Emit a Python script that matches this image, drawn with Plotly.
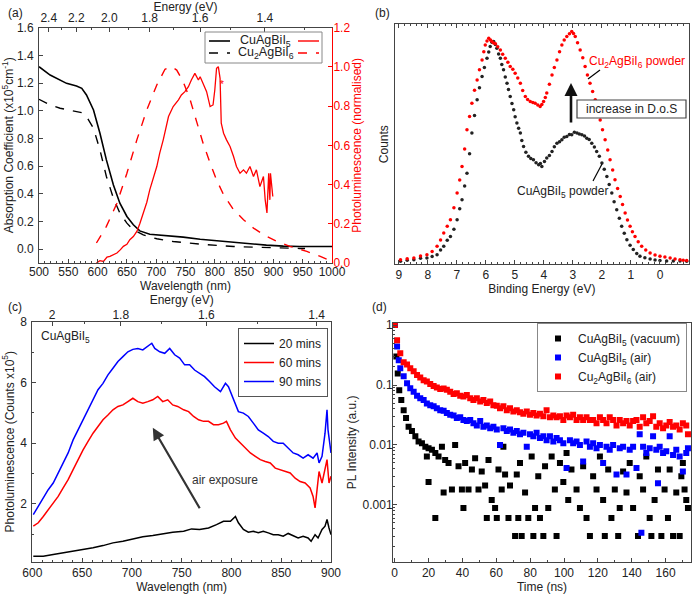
import plotly.graph_objects as go

# ---------------- DATA ----------------
# (a) absorption (x10^5 cm^-1) vs wavelength (nm)
abs_cu1_wl = [500, 519, 547, 564, 573, 581, 593, 604, 615, 627, 638, 650, 661, 672, 689, 718, 746, 775, 803, 832, 860, 888, 917, 945, 1000]
abs_cu1_val = [1.318, 1.258, 1.198, 1.179, 1.162, 1.114, 1.006, 0.837, 0.645, 0.464, 0.332, 0.236, 0.176, 0.132, 0.108, 0.099, 0.087, 0.072, 0.060, 0.048, 0.036, 0.029, 0.022, 0.019, 0.019]
abs_cu2_wl = [500, 519, 536, 559, 573, 581, 593, 604, 615, 627, 638, 650, 661, 678, 701, 729, 775, 832, 888, 945, 954]
abs_cu2_val = [1.083, 1.042, 1.018, 1.001, 0.986, 0.958, 0.873, 0.717, 0.525, 0.368, 0.260, 0.188, 0.140, 0.103, 0.075, 0.055, 0.036, 0.019, 0.010, 0.005, 0.005]
# (a) normalised PL
pl_cu2_wl = [598, 615, 633, 650, 667, 684, 701, 715, 726, 735, 746, 758, 769, 780, 792, 803, 815, 832, 849, 866, 888, 906, 928, 957, 980, 1000]
pl_cu2_val = [0.102, 0.187, 0.305, 0.458, 0.628, 0.781, 0.908, 0.988, 1.001, 0.984, 0.925, 0.832, 0.721, 0.611, 0.509, 0.424, 0.348, 0.272, 0.221, 0.178, 0.136, 0.110, 0.085, 0.059, 0.034, 0.008]
pl_cu1_wl = [598, 604, 610, 616, 621, 627, 633, 639, 644, 650, 655, 661, 667, 672, 678, 684, 689, 695, 701, 706, 712, 721, 729, 738, 743, 749, 755, 760, 766, 772, 775, 780, 786, 792, 797, 800, 803, 806, 809, 811, 815, 820, 826, 832, 837, 843, 849, 854, 860, 866, 871, 877, 883, 886, 889, 892, 894, 895, 899]
pl_cu1_val = [0.0, 0.012, 0.008, 0.030, 0.034, 0.042, 0.051, 0.068, 0.085, 0.095, 0.119, 0.135, 0.161, 0.200, 0.255, 0.310, 0.373, 0.430, 0.492, 0.560, 0.628, 0.747, 0.798, 0.832, 0.857, 0.874, 0.899, 0.933, 0.967, 0.933, 0.950, 0.916, 0.874, 0.798, 0.806, 0.882, 0.993, 1.001, 0.942, 0.713, 0.662, 0.628, 0.594, 0.543, 0.492, 0.458, 0.475, 0.458, 0.492, 0.441, 0.475, 0.390, 0.441, 0.322, 0.255, 0.458, 0.322, 0.458, 0.339]
energy_ticks_a = [2.4, 2.2, 2.0, 1.8, 1.6, 1.4]
energy_minor_a = [2.3, 2.1, 1.9, 1.7, 1.5, 1.3]

# (b) XPS valence band
be_cu1 = [8.94, 8.71, 8.48, 8.25, 8.03, 7.85, 7.68, 7.56, 7.45, 7.33, 7.22, 7.10, 6.99, 6.90, 6.82, 6.73, 6.65, 6.56, 6.48, 6.39, 6.30, 6.22, 6.13, 6.05, 5.96, 5.90, 5.85, 5.79, 5.73, 5.67, 5.62, 5.56, 5.50, 5.45, 5.39, 5.33, 5.27, 5.22, 5.16, 5.10, 5.04, 4.99, 4.93, 4.87, 4.81, 4.76, 4.70, 4.62, 4.53, 4.45, 4.36, 4.27, 4.18, 4.12, 4.07, 3.98, 3.90, 3.81, 3.72, 3.64, 3.55, 3.46, 3.38, 3.30, 3.21, 3.12, 3.04, 2.95, 2.86, 2.78, 2.69, 2.60, 2.52, 2.44, 2.35, 2.26, 2.18, 2.09, 2.00, 1.92, 1.83, 1.75, 1.66, 1.58, 1.49, 1.40, 1.32, 1.23, 1.14, 1.03, 0.92, 0.80, 0.69, 0.52, 0.34, 0.17, 0.00, -0.23, -0.46, -0.69, -0.92]
cnt_cu1 = [1.1, 1.6, 1.8, 2.4, 2.5, 3.1, 3.9, 5.8, 7.4, 9.9, 11.5, 14.5, 18.5, 23.0, 26.8, 32.5, 37.9, 46.0, 54.6, 62.0, 68.5, 73.5, 78.2, 82.0, 85.8, 88.4, 90.7, 92.5, 92.8, 91.6, 90.0, 87.6, 85.8, 83.2, 81.0, 78.0, 75.4, 72.8, 69.9, 67.0, 64.3, 61.4, 58.8, 56.6, 54.6, 51.5, 49.0, 46.6, 44.9, 44.0, 43.5, 42.2, 41.4, 41.9, 40.7, 42.8, 44.2, 45.3, 46.9, 48.9, 50.4, 51.0, 51.8, 52.9, 53.2, 54.0, 53.9, 55.0, 54.6, 54.2, 53.9, 53.4, 52.5, 51.9, 50.4, 48.8, 46.9, 44.9, 42.1, 39.5, 36.5, 33.2, 29.6, 26.0, 22.6, 19.1, 15.7, 12.8, 10.1, 7.8, 6.0, 4.4, 3.2, 2.6, 2.1, 1.7, 1.5, 1.3, 1.25, 1.2, 1.1]
be_cu2 = [8.94, 8.71, 8.48, 8.25, 8.03, 7.85, 7.68, 7.56, 7.45, 7.33, 7.22, 7.10, 6.99, 6.90, 6.82, 6.73, 6.65, 6.56, 6.48, 6.39, 6.30, 6.22, 6.13, 6.07, 6.02, 5.96, 5.90, 5.84, 5.79, 5.73, 5.67, 5.59, 5.50, 5.42, 5.33, 5.24, 5.16, 5.07, 4.99, 4.90, 4.81, 4.73, 4.64, 4.56, 4.47, 4.38, 4.30, 4.21, 4.13, 4.07, 4.01, 3.95, 3.90, 3.81, 3.72, 3.64, 3.55, 3.46, 3.38, 3.30, 3.21, 3.12, 3.04, 2.98, 2.92, 2.84, 2.75, 2.66, 2.58, 2.50, 2.41, 2.32, 2.23, 2.15, 2.06, 1.98, 1.89, 1.80, 1.72, 1.63, 1.55, 1.46, 1.37, 1.29, 1.20, 1.12, 1.03, 0.95, 0.86, 0.75, 0.63, 0.49, 0.34, 0.17, 0.00, -0.17, -0.35, -0.52, -0.69, -0.80, -0.92]
cnt_cu2 = [1.8, 2.2, 2.5, 3.3, 3.9, 5.2, 7.4, 10.0, 12.9, 15.8, 18.5, 23.5, 29.6, 35.0, 40.7, 48.0, 56.0, 61.5, 67.1, 72.5, 76.8, 81.0, 85.1, 88.6, 91.4, 93.0, 94.2, 93.5, 92.8, 92.2, 91.9, 90.6, 89.3, 87.5, 85.8, 84.2, 82.4, 81.2, 79.6, 77.6, 75.4, 72.4, 69.9, 68.6, 67.8, 67.4, 67.1, 66.3, 65.7, 66.5, 67.8, 69.5, 71.3, 75.0, 78.9, 82.0, 85.1, 88.5, 91.4, 93.4, 94.9, 96.1, 97.0, 96.2, 94.9, 92.3, 89.3, 86.0, 82.4, 78.8, 75.4, 72.0, 68.5, 64.4, 60.1, 56.0, 51.8, 47.6, 43.5, 39.2, 35.1, 31.5, 28.2, 24.8, 21.3, 18.4, 15.7, 13.5, 11.5, 9.3, 7.4, 5.8, 4.6, 3.8, 3.2, 2.9, 2.5, 2.1, 1.8, 1.6, 1.5]

# (c) PL vs air exposure (counts x10^5)
c_wl_90 = [601, 606, 611, 616, 621, 626, 631, 636, 641, 646, 651, 656, 661, 666, 671, 676, 681, 686, 691, 696, 701, 706, 711, 716, 720, 723, 728, 733, 738, 743, 748, 753, 758, 763, 768, 773, 778, 783, 789, 794, 797, 802, 807, 812, 817, 822, 827, 832, 837, 842, 847, 852, 857, 862, 867, 872, 877, 882, 886, 888, 891, 894, 896, 897, 900]
c_pl_90 = [1.65, 1.92, 2.20, 2.47, 2.69, 3.02, 3.35, 3.68, 4.11, 4.44, 4.77, 5.10, 5.48, 5.76, 5.97, 6.25, 6.47, 6.69, 6.85, 7.01, 7.09, 7.12, 7.07, 7.18, 7.29, 7.12, 7.01, 6.96, 7.12, 6.91, 6.80, 6.58, 6.58, 6.41, 6.30, 6.19, 6.03, 5.86, 5.70, 5.97, 5.86, 5.43, 5.04, 4.99, 4.88, 4.66, 4.44, 4.33, 4.22, 4.06, 4.00, 4.00, 3.84, 3.68, 3.62, 3.51, 3.62, 3.51, 3.68, 3.35, 3.57, 4.33, 5.10, 4.44, 3.68]
c_wl_60 = [601, 606, 611, 616, 621, 626, 631, 636, 641, 646, 651, 656, 661, 666, 671, 676, 681, 686, 691, 696, 701, 706, 711, 716, 721, 726, 731, 736, 741, 746, 752, 757, 762, 767, 772, 777, 782, 787, 792, 795, 799, 804, 809, 814, 819, 824, 829, 834, 839, 844, 849, 854, 859, 864, 869, 874, 879, 882, 884, 886, 888, 891, 894, 896, 898, 900]
c_pl_60 = [1.27, 1.38, 1.59, 1.81, 2.03, 2.25, 2.53, 2.80, 3.13, 3.46, 3.78, 4.06, 4.33, 4.55, 4.77, 4.93, 5.10, 5.21, 5.26, 5.37, 5.48, 5.37, 5.32, 5.37, 5.43, 5.54, 5.37, 5.43, 5.26, 5.21, 5.10, 5.04, 4.88, 4.77, 4.72, 4.72, 4.61, 4.61, 4.66, 4.72, 4.44, 4.17, 4.00, 3.84, 3.68, 3.57, 3.46, 3.40, 3.35, 3.18, 3.13, 3.07, 3.02, 2.85, 2.74, 2.69, 2.53, 2.25, 1.87, 2.47, 3.07, 2.69, 3.13, 3.46, 2.69, 2.91]
c_wl_20 = [601, 611, 621, 631, 641, 651, 661, 671, 681, 691, 701, 711, 721, 731, 741, 752, 760, 768, 777, 785, 792, 799, 804, 807, 812, 817, 822, 827, 832, 837, 842, 847, 852, 857, 862, 867, 872, 877, 880, 884, 887, 891, 894, 896, 898, 900]
c_pl_20 = [0.28, 0.28, 0.34, 0.39, 0.45, 0.50, 0.56, 0.63, 0.72, 0.77, 0.85, 0.92, 0.96, 1.01, 1.07, 1.10, 1.18, 1.16, 1.21, 1.32, 1.43, 1.43, 1.59, 1.38, 1.16, 1.07, 1.10, 1.05, 1.10, 1.05, 0.99, 0.99, 0.94, 1.03, 0.96, 0.88, 0.94, 0.88, 0.77, 0.99, 0.88, 1.16, 1.27, 1.49, 1.21, 0.99]
energy_ticks_c = [2.0, 1.8, 1.6, 1.4]
energy_minor_c = [1.9, 1.7, 1.5]

# (d) TRPL decays
t_red = [0, 1.4, 3.3, 5.3, 7.3, 9.2, 11.2, 13.2, 15.1, 17.1, 19.0, 21.0, 23.0, 24.9, 26.9, 28.9, 30.8, 32.8, 34.8, 36.7, 38.7, 40.6, 42.6, 44.6, 46.5, 48.5, 50.5, 52.4, 54.4, 56.4, 58.3, 60.3, 62.2, 64.2, 66.2, 68.1, 70.1, 72.1, 74.0, 76.0, 78.0, 79.9, 81.9, 83.8, 85.8, 87.8, 89.7, 91.7, 93.7, 95.6, 97.6, 99.6, 101.5, 103.5, 105.4, 107.4, 109.4, 111.3, 113.3, 115.3, 117.2, 119.2, 121.2, 123.1, 125.1, 127.0, 129.0, 131.0, 132.9, 134.9, 136.9, 138.8, 140.8, 142.8, 144.7, 146.7, 148.6, 150.6, 152.6, 154.5, 156.5, 158.5, 160.4, 162.4, 164.4, 166.3, 168.3, 170.2, 172.2, 173.2]
i_red = [1.0, 0.56, 0.34, 0.24, 0.22, 0.19, 0.17, 0.147, 0.134, 0.12, 0.114, 0.104, 0.096, 0.091, 0.086, 0.087, 0.083, 0.077, 0.071, 0.073, 0.066, 0.064, 0.068, 0.060, 0.056, 0.060, 0.053, 0.056, 0.050, 0.053, 0.046, 0.045, 0.041, 0.044, 0.038, 0.041, 0.036, 0.038, 0.035, 0.033, 0.036, 0.032, 0.034, 0.031, 0.033, 0.030, 0.038, 0.029, 0.031, 0.029, 0.030, 0.026, 0.031, 0.029, 0.032, 0.026, 0.029, 0.026, 0.029, 0.026, 0.026, 0.023, 0.029, 0.026, 0.023, 0.029, 0.026, 0.021, 0.026, 0.023, 0.025, 0.021, 0.025, 0.026, 0.020, 0.029, 0.023, 0.025, 0.030, 0.020, 0.023, 0.019, 0.021, 0.024, 0.020, 0.021, 0.018, 0.023, 0.021, 0.015]
t_blue = [0, 1.4, 2.4, 3.3, 5.3, 7.3, 9.2, 11.2, 13.2, 15.1, 17.1, 19.0, 21.0, 23.0, 24.9, 26.9, 28.9, 30.8, 32.8, 34.8, 36.7, 38.7, 40.6, 42.6, 44.6, 46.5, 48.5, 50.5, 52.4, 54.4, 56.4, 58.3, 60.3, 62.2, 64.2, 66.2, 68.1, 70.1, 72.1, 74.0, 76.0, 78.0, 79.9, 81.9, 83.8, 85.8, 87.8, 89.7, 91.7, 93.7, 95.6, 97.6, 99.6, 101.5, 103.5, 105.4, 107.4, 109.4, 111.3, 113.3, 115.3, 117.2, 119.2, 121.2, 123.1, 125.1, 127.0, 129.0, 131.0, 132.9, 134.9, 136.9, 138.8, 140.8, 142.8, 144.7, 145.7, 146.7, 148.6, 150.6, 152.6, 154.5, 155.5, 156.5, 158.5, 160.4, 162.4, 164.4, 166.3, 168.3, 170.2, 172.2, 173.2]
i_blue = [1.0, 0.44, 0.26, 0.19, 0.14, 0.107, 0.088, 0.077, 0.066, 0.060, 0.056, 0.049, 0.046, 0.044, 0.041, 0.038, 0.037, 0.034, 0.032, 0.031, 0.028, 0.029, 0.026, 0.025, 0.026, 0.023, 0.021, 0.025, 0.020, 0.021, 0.019, 0.020, 0.018, 0.010, 0.019, 0.017, 0.018, 0.016, 0.017, 0.015, 0.016, 0.0093, 0.015, 0.014, 0.016, 0.013, 0.014, 0.012, 0.014, 0.0114, 0.013, 0.012, 0.0107, 0.0041, 0.012, 0.0107, 0.0114, 0.010, 0.0053, 0.0114, 0.0093, 0.0107, 0.0088, 0.010, 0.005, 0.0093, 0.0083, 0.010, 0.0032, 0.0088, 0.0093, 0.0032, 0.0083, 0.0093, 0.0041, 0.015, 0.00034, 0.0093, 0.0073, 0.0088, 0.014, 0.0083, 0.0023, 0.0093, 0.0073, 0.0078, 0.014, 0.0068, 0.0083, 0.0064, 0.0036, 0.0073, 0.0088]
t_black = [0, 1.0, 1.8, 2.7, 3.9, 5.3, 6.7, 8.2, 10.2, 12.2, 14.1, 16.1, 18.1, 19.0, 20.0, 20.0, 22.0, 24.0, 24.0, 25.9, 27.9, 28.9, 29.8, 31.8, 33.8, 35.7, 37.7, 39.7, 40.6, 41.6, 43.6, 45.6, 47.5, 49.5, 51.4, 53.4, 54.4, 55.4, 57.3, 59.3, 60.3, 61.3, 63.2, 64.2, 65.2, 67.2, 68.1, 71.1, 72.1, 73.0, 74.0, 75.0, 77.0, 78.9, 80.9, 81.9, 82.9, 84.8, 85.8, 87.8, 88.8, 90.7, 92.7, 94.6, 95.6, 97.6, 99.6, 101.5, 102.5, 104.4, 107.4, 109.4, 111.3, 113.3, 115.3, 117.2, 119.2, 121.2, 123.1, 124.1, 126.1, 128.0, 130.0, 132.0, 132.9, 134.9, 136.9, 138.8, 140.8, 143.7, 144.7, 146.7, 148.6, 150.6, 151.6, 153.5, 155.5, 157.5, 159.4, 161.4, 162.4, 164.4, 166.3, 168.3, 169.3, 170.2, 171.2, 172.2, 173.2]
i_black = [1.0, 0.30, 0.156, 0.082, 0.056, 0.038, 0.028, 0.020, 0.017, 0.014, 0.0114, 0.0107, 0.0093, 0.0064, 0.0088, 0.0024, 0.0083, 0.0073, 0.0006, 0.0064, 0.0093, 0.0016, 0.0056, 0.005, 0.0018, 0.010, 0.0044, 0.0018, 0.00088, 0.005, 0.0018, 0.0039, 0.006, 0.0018, 0.0036, 0.0021, 0.0006, 0.0056, 0.0012, 0.00088, 0.0006, 0.0039, 0.0018, 0.0093, 0.0032, 0.0006, 0.0021, 0.0003, 0.0032, 0.0006, 0.005, 0.0003, 0.0016, 0.0006, 0.0064, 0.0003, 0.00088, 0.003, 0.0006, 0.0003, 0.0044, 0.00088, 0.0064, 0.0018, 0.0003, 0.005, 0.0024, 0.0073, 0.0012, 0.0039, 0.0018, 0.00088, 0.0044, 0.0006, 0.0003, 0.003, 0.0018, 0.0064, 0.0012, 0.0003, 0.0039, 0.0006, 0.0018, 0.0003, 0.00088, 0.0036, 0.0016, 0.005, 0.00088, 0.0003, 0.003, 0.0018, 0.0064, 0.0006, 0.0003, 0.0012, 0.0039, 0.0003, 0.0018, 0.0006, 0.0039, 0.0003, 0.0016, 0.0003, 0.003, 0.005, 0.0018, 0.0012, 0.00088]

# ---------------- LAYOUT HELPERS ----------------
W, H = 694, 599
FONT = "Liberation Sans, Arial, sans-serif"
TXT = "#222222"
AX = "#444444"
RED = "#ff0000"


def px(x):
    return x / W


def py(y):
    return 1 - y / H


def nm(e):
    return 1239.84 / e


fig = go.Figure()

# ---- (a) ----
fig.add_trace(go.Scatter(x=abs_cu1_wl, y=abs_cu1_val, mode="lines", line=dict(color="#000", width=1.6),
                         xaxis="x", yaxis="y", showlegend=False))
fig.add_trace(go.Scatter(x=abs_cu2_wl, y=abs_cu2_val, mode="lines", line=dict(color="#000", width=1.4, dash="dash"),
                         xaxis="x", yaxis="y", showlegend=False))
fig.add_trace(go.Scatter(x=pl_cu2_wl, y=pl_cu2_val, mode="lines", line=dict(color=RED, width=1.4, dash="dash"),
                         xaxis="x", yaxis="y2", showlegend=False))
fig.add_trace(go.Scatter(x=pl_cu1_wl, y=pl_cu1_val, mode="lines", line=dict(color=RED, width=1.3),
                         xaxis="x", yaxis="y2", showlegend=False))
fig.add_trace(go.Scatter(x=[500, 1000], y=[None, None], xaxis="x2", yaxis="y", showlegend=False, hoverinfo="skip"))

# ---- (b) ----
fig.add_trace(go.Scatter(x=be_cu1, y=cnt_cu1, mode="markers", marker=dict(color="#222", size=3.5),
                         xaxis="x3", yaxis="y3", showlegend=False))
fig.add_trace(go.Scatter(x=be_cu2, y=cnt_cu2, mode="markers", marker=dict(color=RED, size=3.5),
                         xaxis="x3", yaxis="y3", showlegend=False))
fig.add_trace(go.Scatter(x=[9, -1], y=[None, None], xaxis="x4", yaxis="y3", showlegend=False, hoverinfo="skip"))

# ---- (c) ----
fig.add_trace(go.Scatter(x=c_wl_20, y=c_pl_20, mode="lines", line=dict(color="#000", width=1.5),
                         name="20 mins", xaxis="x5", yaxis="y5", legend="legend2"))
fig.add_trace(go.Scatter(x=c_wl_60, y=c_pl_60, mode="lines", line=dict(color=RED, width=1.5),
                         name="60 mins", xaxis="x5", yaxis="y5", legend="legend2"))
fig.add_trace(go.Scatter(x=c_wl_90, y=c_pl_90, mode="lines", line=dict(color="#0000ff", width=1.5),
                         name="90 mins", xaxis="x5", yaxis="y5", legend="legend2"))
fig.add_trace(go.Scatter(x=[600, 900], y=[None, None], xaxis="x6", yaxis="y5", showlegend=False, hoverinfo="skip"))

# ---- (d) ----
fig.add_trace(go.Scatter(x=t_black, y=i_black, mode="markers", marker=dict(color="#000", size=6, symbol="square"),
                         name="CuAgBiI<sub>5</sub> (vacuum)", xaxis="x7", yaxis="y7", legend="legend"))
fig.add_trace(go.Scatter(x=t_blue, y=i_blue, mode="markers", marker=dict(color="#0000ff", size=6, symbol="square"),
                         name="CuAgBiI<sub>5</sub> (air)", xaxis="x7", yaxis="y7", legend="legend"))
fig.add_trace(go.Scatter(x=t_red, y=i_red, mode="markers", marker=dict(color=RED, size=6, symbol="square"),
                         name="Cu<sub>2</sub>AgBiI<sub>6</sub> (air)", xaxis="x7", yaxis="y7", legend="legend"))

base_ax = dict(showline=True, linecolor=AX, linewidth=1, ticks="inside", ticklen=4, tickcolor=AX,
               showgrid=False, zeroline=False, automargin=False,
               tickfont=dict(family=FONT, size=12, color=TXT),
               title_font=dict(family=FONT, size=12, color=TXT))
YL = dict(ticklabelstandoff=2)

dom_a_x = [px(39), px(332)]
dom_a_y = [py(263), py(27.7)]
dom_b_x = [px(394.7), px(689)]
dom_b_y = [py(264), py(24.3)]
dom_c_x = [px(32.3), px(331)]
dom_c_y = [py(561.7), py(321.7)]
dom_d_x = [px(393), px(691)]
dom_d_y = [py(561.7), py(323)]

fig.update_layout(
    width=W, height=H, margin=dict(l=0, r=0, t=0, b=0, autoexpand=False), autosize=False,
    paper_bgcolor="white", plot_bgcolor="white",
    font=dict(family=FONT, size=12, color=TXT),
    xaxis=dict(base_ax, ticklabelstandoff=-2, domain=dom_a_x, anchor="y", range=[500, 1000], dtick=50, tick0=500,
               minor=dict(ticks="inside", ticklen=2, dtick=10, tickcolor=AX),
               title=dict(text="Wavelength (nm)", standoff=0)),
    yaxis=dict(base_ax, **YL, domain=dom_a_y, anchor="x", range=[-0.1, 1.6], tickvals=[0, 0.2, 0.4, 0.6, 0.8, 1.0, 1.2, 1.4, 1.6],
               tickformat=".1f", title=dict(text="Absorption Coefficient (x10<sup>5</sup>cm<sup>-1</sup>)", standoff=3)),
    yaxis2=dict(base_ax, overlaying="y", side="right", anchor="x", range=[0, 1.2], tickvals=[0, 0.2, 0.4, 0.6, 0.8, 1.0, 1.2],
                ticklabelstandoff=-2,
                tickformat=".1f", linecolor=RED, tickcolor=RED, tickfont=dict(family=FONT, size=12, color=RED),
                title=dict(text="Photoluminescence (normalised)", font=dict(family=FONT, size=12, color=RED), standoff=3)),
    xaxis2=dict(base_ax, overlaying="x", side="top", anchor="y", range=[500, 1000],
                tickvals=[nm(e) for e in energy_ticks_a], ticktext=[f"{e:.1f}" for e in energy_ticks_a],
                minor=dict(ticks="inside", ticklen=2, tickvals=[nm(e) for e in energy_minor_a], tickcolor=AX),
                title=dict(text="Energy (eV)", standoff=0)),
    xaxis3=dict(base_ax, domain=dom_b_x, anchor="y3", range=[9.14, -1], dtick=1, mirror=True,
                minor=dict(ticks="inside", ticklen=2, dtick=0.2, tickcolor=AX),
                title=dict(text="Binding Energy (eV)", standoff=1)),
    xaxis4=dict(base_ax, overlaying="x3", side="top", anchor="y3", range=[9.14, -1], dtick=1, showticklabels=False,
                minor=dict(ticks="inside", ticklen=2, dtick=0.2, tickcolor=AX)),
    yaxis3=dict(base_ax, domain=dom_b_y, anchor="x3", range=[0, 100], showticklabels=False, ticks="", mirror=True,
                title=dict(text="Counts", standoff=2)),
    xaxis5=dict(base_ax, domain=dom_c_x, anchor="y5", range=[600, 900], dtick=50, tick0=600,
                minor=dict(ticks="inside", ticklen=2, dtick=10, tickcolor=AX),
                title=dict(text="Wavelength (nm)", standoff=1)),
    xaxis6=dict(base_ax, ticklabelstandoff=-3, overlaying="x5", side="top", anchor="y5", range=[600, 900],
                tickvals=[nm(e) for e in energy_ticks_c], ticktext=["2", "1.8", "1.6", "1.4"],
                minor=dict(ticks="inside", ticklen=2, tickvals=[nm(e) for e in energy_minor_c], tickcolor=AX),
                title=dict(text="Energy (eV)", standoff=0)),
    yaxis5=dict(base_ax, **YL, domain=dom_c_y, anchor="x5", range=[0.1, 8], tickvals=[2, 4, 6, 8], mirror=True,
                minor=dict(ticks="inside", ticklen=2, tickvals=[1, 3, 5, 7], tickcolor=AX),
                title=dict(text="Photoluminescence (Counts x10<sup>5</sup>)", standoff=3)),
    xaxis7=dict(base_ax, domain=dom_d_x, anchor="y7", range=[-1, 175], dtick=20, tick0=0, mirror=True,
                minor=dict(ticks="inside", ticklen=2, dtick=10, tickcolor=AX),
                title=dict(text="Time (ns)", standoff=2)),
    yaxis7=dict(base_ax, ticklabelstandoff=-3, domain=dom_d_y, anchor="x7", type="log", range=[-3.95, 0.035], mirror=True,
                tickvals=[1, 0.1, 0.01, 0.001], ticktext=["1", "0.1", "0.01", "0.001"],
                minor=dict(ticks="inside", ticklen=2, tickcolor=AX,
                           tickvals=[m * 10 ** k for k in (-4, -3, -2, -1) for m in range(2, 10)]),
                title=dict(text="PL Intensity (a.u.)", standoff=3)),
    legend=dict(x=px(687), y=py(323), xanchor="right", yanchor="top", bgcolor="white",
                bordercolor="#888", borderwidth=1, font=dict(family=FONT, size=12, color=TXT),
                tracegroupgap=0, itemwidth=30),
    legend2=dict(x=px(328), y=py(328), xanchor="right", yanchor="top", bgcolor="white",
                 bordercolor="#555", borderwidth=1, font=dict(family=FONT, size=12, color=TXT),
                 tracegroupgap=0),
)

shapes = []
ann = []

for lbl, x, y in [("(a)", 6, 13), ("(b)", 373, 13), ("(c)", 6, 307), ("(d)", 370, 307)]:
    ann.append(dict(text=lbl, x=px(x), y=py(y), xref="paper", yref="paper", xanchor="left", yanchor="middle",
                    showarrow=False, font=dict(family=FONT, size=12, color=TXT)))

# (a) manual legend
shapes.append(dict(type="rect", xref="paper", yref="paper", x0=px(205), x1=px(322), y0=py(63), y1=py(32),
                   line=dict(color="#888", width=1), fillcolor="white", layer="above"))
shapes.append(dict(type="line", xref="paper", yref="paper", x0=px(209), x1=px(230), y0=py(41), y1=py(41),
                   line=dict(color="#000", width=1.6)))
shapes.append(dict(type="line", xref="paper", yref="paper", x0=px(298), x1=px(319), y0=py(41), y1=py(41),
                   line=dict(color=RED, width=1.4)))
shapes.append(dict(type="line", xref="paper", yref="paper", x0=px(209), x1=px(230), y0=py(53), y1=py(53),
                   line=dict(color="#000", width=1.4, dash="dash")))
shapes.append(dict(type="line", xref="paper", yref="paper", x0=px(298), x1=px(319), y0=py(53), y1=py(53),
                   line=dict(color=RED, width=1.4, dash="dash")))
ann.append(dict(text="CuAgBiI<sub>5</sub>", x=px(238), y=py(41), xref="paper", yref="paper", xanchor="left",
                yanchor="middle", showarrow=False, font=dict(family=FONT, size=12.5, color=TXT)))
ann.append(dict(text="Cu<sub>2</sub>AgBiI<sub>6</sub>", x=px(236), y=py(53), xref="paper", yref="paper", xanchor="left",
                yanchor="middle", showarrow=False, font=dict(family=FONT, size=12.5, color=TXT)))
ann.append(dict(text="*", x=813, y=0.91, xref="x", yref="y2", showarrow=False, font=dict(family=FONT, size=10, color=RED)))

# (b) annotations
ann.append(dict(text="Cu<sub>2</sub>AgBiI<sub>6</sub> powder", x=px(587), y=py(62), xref="paper", yref="paper",
                xanchor="left", yanchor="middle", showarrow=False, font=dict(family=FONT, size=12, color=RED)))
shapes.append(dict(type="line", xref="paper", yref="paper", x0=px(588), x1=px(600), y0=py(79), y1=py(70),
                   line=dict(color="#000", width=1.2)))
shapes.append(dict(type="rect", xref="paper", yref="paper", x0=px(577), x1=px(686), y0=py(118), y1=py(100),
                   line=dict(color="#444", width=1.2), fillcolor="white"))
ann.append(dict(text="increase in D.o.S", x=px(631.5), y=py(109), xref="paper", yref="paper",
                xanchor="center", yanchor="middle", showarrow=False, font=dict(family=FONT, size=12, color=TXT)))
ann.append(dict(x=px(571), y=py(83), ax=0, ay=41, xref="paper", yref="paper", axref="pixel", ayref="pixel",
                text="", showarrow=True, arrowhead=2, arrowsize=1, arrowwidth=2.6, arrowcolor="#111"))
ann.append(dict(text="CuAgBiI<sub>5</sub> powder", x=px(562), y=py(192), xref="paper", yref="paper",
                xanchor="center", yanchor="middle", showarrow=False, font=dict(family=FONT, size=12, color=TXT)))
shapes.append(dict(type="line", xref="paper", yref="paper", x0=px(593), x1=px(602), y0=py(181), y1=py(164),
                   line=dict(color="#000", width=1.2)))

# (c) annotations
ann.append(dict(text="CuAgBiI<sub>5</sub>", x=px(39), y=py(337), xref="paper", yref="paper", xanchor="left",
                yanchor="middle", showarrow=False, font=dict(family=FONT, size=12, color=TXT)))
ann.append(dict(x=721, y=4.51, ax=769, ay=1.81, xref="x5", yref="y5", axref="x5", ayref="y5", text="",
                showarrow=True, arrowhead=2, arrowsize=1.1, arrowwidth=2.2, arrowcolor="#333"))
ann.append(dict(text="air exposure", x=794, y=2.78, xref="x5", yref="y5", showarrow=False,
                font=dict(family=FONT, size=12, color="#333")))

fig.update_layout(shapes=shapes, annotations=ann)
fig.write_html("out.html", config={"displayModeBar": False},
               post_script="document.body.style.margin='0px';document.documentElement.style.overflow='hidden';")
